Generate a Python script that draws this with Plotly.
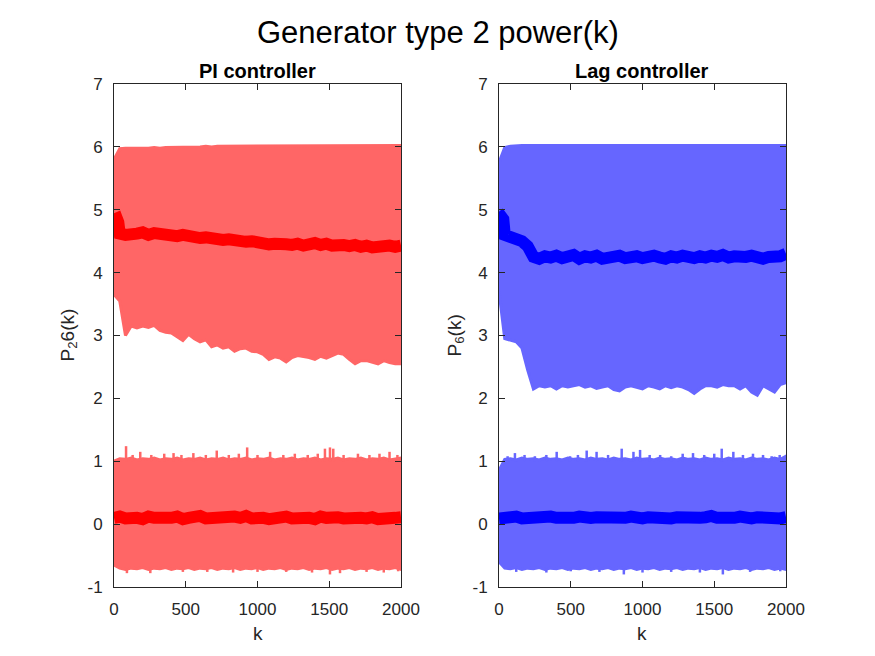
import plotly.graph_objects as go

# ---------------- data ----------------
k_grid = list(range(0, 2001, 40))           # 51 sample positions
k_mean = [0, 20, 30] + list(range(40, 2001, 40))

# PI controller
pi_up_top = [5.80, 5.97, 5.98, 5.98, 5.97, 5.98, 5.98, 5.99, 5.98, 5.99,
             5.99, 6.00, 5.99, 6.00, 6.00, 6.00, 6.01, 6.00, 6.01, 6.01,
             6.01, 6.01, 6.02, 6.01, 6.02, 6.02, 6.02, 6.02, 6.02, 6.02,
             6.02, 6.02, 6.02, 6.02, 6.02, 6.02, 6.02, 6.02, 6.02, 6.02,
             6.02, 6.02, 6.02, 6.02, 6.02, 6.02, 6.02, 6.02, 6.02, 6.02, 6.02]
pi_up_bot = [3.65, 3.55, 3.00, 3.15, 3.12, 3.15, 3.13, 3.16, 3.08, 3.05,
             3.04, 2.98, 2.92, 3.02, 2.95, 2.90, 2.93, 2.82, 2.85, 2.80,
             2.82, 2.75, 2.79, 2.80, 2.75, 2.74, 2.70, 2.62, 2.66, 2.64,
             2.58, 2.65, 2.68, 2.67, 2.65, 2.62, 2.67, 2.64, 2.68, 2.72,
             2.70, 2.62, 2.55, 2.60, 2.60, 2.58, 2.55, 2.60, 2.57, 2.55, 2.55]
pi_lo_top = [1.00, 1.04, 1.03, 1.05, 1.02, 1.04, 1.03, 1.05, 1.02, 1.04,
             1.03, 1.05, 1.02, 1.04, 1.03, 1.05, 1.02, 1.04, 1.03, 1.05,
             1.02, 1.04, 1.03, 1.05, 1.02, 1.04, 1.03, 1.05, 1.02, 1.04,
             1.03, 1.05, 1.02, 1.04, 1.03, 1.05, 1.02, 1.04, 1.03, 1.05,
             1.02, 1.04, 1.03, 1.05, 1.02, 1.04, 1.03, 1.05, 1.02, 1.04, 1.05]
pi_lo_bot = [-0.65, -0.70, -0.72, -0.70, -0.71, -0.69, -0.72, -0.70, -0.71, -0.69,
             -0.72, -0.70, -0.71, -0.69, -0.72, -0.70, -0.71, -0.69, -0.72, -0.70,
             -0.71, -0.69, -0.72, -0.70, -0.71, -0.69, -0.72, -0.70, -0.71, -0.69,
             -0.72, -0.70, -0.71, -0.69, -0.72, -0.70, -0.71, -0.69, -0.72, -0.70,
             -0.71, -0.69, -0.72, -0.70, -0.71, -0.69, -0.72, -0.70, -0.71, -0.69, -0.72]
pi_spk_hi_k = [84, 130, 183, 260, 350, 415, 470, 553, 640, 716, 800, 870, 928,
               1000, 1088, 1180, 1260, 1350, 1420, 1470, 1505, 1528, 1600, 1700,
               1780, 1850, 1920, 1975]
pi_spk_hi_v = [1.24, 1.10, 1.15, 1.10, 1.12, 1.13, 1.10, 1.13, 1.10, 1.17, 1.10,
               1.12, 1.22, 1.10, 1.15, 1.10, 1.12, 1.10, 1.12, 1.20, 1.22, 1.20,
               1.10, 1.12, 1.10, 1.12, 1.15, 1.10]
pi_spk_lo_k = [90, 253, 480, 650, 830, 1000, 1200, 1380, 1505, 1575, 1760, 1880, 1980]
pi_spk_lo_v = [-0.78, -0.78, -0.76, -0.76, -0.77, -0.76, -0.76, -0.77, -0.80, -0.78,
               -0.76, -0.77, -0.75]
pi_mean_up = [4.84, 4.86, 4.80, 4.62, 4.60, 4.63, 4.62, 4.64, 4.60, 4.63,
              4.61, 4.62, 4.60, 4.58, 4.60, 4.57, 4.58, 4.55, 4.56, 4.53,
              4.55, 4.52, 4.53, 4.50, 4.52, 4.49, 4.50, 4.47, 4.48, 4.45,
              4.46, 4.43, 4.45, 4.44, 4.46, 4.43, 4.45, 4.47, 4.44, 4.46,
              4.43, 4.45, 4.44, 4.42, 4.44, 4.41, 4.43, 4.40, 4.42, 4.41,
              4.43, 4.41, 4.43]
pi_mean_lo = [0.10, 0.12, 0.09, 0.11, 0.10, 0.08, 0.12, 0.10, 0.09, 0.11,
              0.10, 0.12, 0.08, 0.10, 0.11, 0.13, 0.09, 0.10, 0.11, 0.08,
              0.10, 0.12, 0.10, 0.13, 0.09, 0.11, 0.10, 0.08, 0.11, 0.10,
              0.12, 0.09, 0.10, 0.11, 0.10, 0.08, 0.12, 0.10, 0.13, 0.11,
              0.09, 0.10, 0.12, 0.10, 0.09, 0.11, 0.08, 0.10, 0.12, 0.10, 0.11]

# Lag controller
lag_up_top = [5.75, 5.99, 6.01, 6.02, 6.02, 6.02, 6.02, 6.02, 6.02, 6.02,
              6.02, 6.02, 6.02, 6.02, 6.02, 6.02, 6.02, 6.02, 6.02, 6.02,
              6.02, 6.02, 6.02, 6.02, 6.02, 6.02, 6.02, 6.02, 6.02, 6.02,
              6.02, 6.02, 6.02, 6.02, 6.02, 6.02, 6.02, 6.02, 6.02, 6.02,
              6.02, 6.02, 6.02, 6.02, 6.02, 6.02, 6.02, 6.02, 6.02, 6.02, 6.02]
lag_up_bot = [3.70, 2.95, 2.92, 2.90, 2.80, 2.45, 2.15, 2.20, 2.18, 2.20,
              2.15, 2.20, 2.18, 2.20, 2.22, 2.18, 2.20, 2.16, 2.18, 2.20,
              2.14, 2.12, 2.18, 2.20, 2.17, 2.15, 2.20, 2.18, 2.15, 2.20,
              2.17, 2.20, 2.18, 2.14, 2.08, 2.15, 2.20, 2.20, 2.18, 2.22,
              2.20, 2.20, 2.15, 2.20, 2.10, 2.05, 2.20, 2.15, 2.10, 2.22, 2.25]
lag_lo_top = [0.85, 1.03, 1.04, 1.02, 1.05, 1.03, 1.04, 1.02, 1.05, 1.03,
              1.04, 1.02, 1.05, 1.03, 1.04, 1.02, 1.05, 1.03, 1.04, 1.02,
              1.05, 1.03, 1.04, 1.02, 1.05, 1.03, 1.04, 1.02, 1.05, 1.03,
              1.04, 1.02, 1.05, 1.03, 1.04, 1.02, 1.05, 1.03, 1.04, 1.02,
              1.05, 1.03, 1.04, 1.02, 1.05, 1.03, 1.04, 1.02, 1.05, 1.03, 1.08]
lag_lo_bot = [-0.60, -0.70, -0.71, -0.69, -0.72, -0.70, -0.71, -0.69, -0.72, -0.70,
              -0.71, -0.69, -0.72, -0.70, -0.71, -0.69, -0.72, -0.70, -0.71, -0.69,
              -0.72, -0.70, -0.71, -0.69, -0.72, -0.70, -0.71, -0.69, -0.72, -0.70,
              -0.71, -0.69, -0.72, -0.70, -0.71, -0.69, -0.72, -0.70, -0.71, -0.69,
              -0.72, -0.70, -0.71, -0.69, -0.72, -0.70, -0.71, -0.69, -0.72, -0.70, -0.72]
lag_spk_hi_k = [60, 111, 178, 250, 330, 402, 495, 550, 611, 680, 760, 855, 937,
                983, 1050, 1123, 1200, 1280, 1352, 1430, 1500, 1552, 1633, 1700,
                1770, 1840, 1900, 1956]
lag_spk_hi_v = [1.08, 1.13, 1.10, 1.08, 1.10, 1.15, 1.08, 1.10, 1.17, 1.15, 1.10,
                1.20, 1.15, 1.18, 1.10, 1.10, 1.08, 1.12, 1.13, 1.10, 1.12, 1.20,
                1.15, 1.10, 1.12, 1.10, 1.08, 1.10]
lag_spk_lo_k = [120, 330, 500, 700, 870, 1000, 1200, 1400, 1560, 1750, 1960]
lag_spk_lo_v = [-0.76, -0.77, -0.75, -0.76, -0.80, -0.77, -0.76, -0.77, -0.80, -0.76, -0.75]
lag_mean_up = [4.84, 4.88, 4.85, 4.60, 4.57, 4.55, 4.50, 4.42, 4.25, 4.22,
               4.26, 4.24, 4.27, 4.23, 4.25, 4.28, 4.22, 4.26, 4.24, 4.27,
               4.22, 4.25, 4.24, 4.27, 4.23, 4.25, 4.26, 4.23, 4.25, 4.27,
               4.24, 4.22, 4.26, 4.24, 4.27, 4.25, 4.23, 4.26, 4.24, 4.27,
               4.25, 4.28, 4.24, 4.26, 4.23, 4.25, 4.27, 4.24, 4.22, 4.25,
               4.24, 4.26, 4.30]
lag_mean_lo = [0.09, 0.11, 0.10, 0.12, 0.09, 0.10, 0.11, 0.08, 0.10, 0.12,
               0.10, 0.09, 0.11, 0.10, 0.12, 0.09, 0.10, 0.11, 0.10, 0.13,
               0.09, 0.11, 0.10, 0.12, 0.10, 0.09, 0.11, 0.10, 0.12, 0.10,
               0.09, 0.11, 0.10, 0.12, 0.09, 0.10, 0.11, 0.13, 0.10, 0.09,
               0.11, 0.10, 0.12, 0.10, 0.09, 0.11, 0.10, 0.12, 0.10, 0.09, 0.11]

x_ticks = [0, 500, 1000, 1500, 2000]
x_ticktext = ["0", "500", "1000", "1500", "2000"]
y_ticks = [-1, 0, 1, 2, 3, 4, 5, 6, 7]
y_ticktext = ["-1", "0", "1", "2", "3", "4", "5", "6", "7"]
titles = ["PI controller", "Lag controller"]
ylabels = ["P<sub>2</sub>6(k)", "P<sub>6</sub>(k)"]

LIGHT = ["#FF6666", "#6666FF"]
DARK = ["#FF0000", "#0000FF"]
FONT = "Liberation Sans, Arial, Helvetica, sans-serif"
AX = "#262626"

fig = go.Figure()


def band(xa, ya, top, bot, color):
    fig.add_trace(go.Scatter(
        x=k_grid + k_grid[::-1], y=top + bot[::-1], xaxis=xa, yaxis=ya,
        mode="lines", fill="toself", fillcolor=color,
        line=dict(color=color, width=3), hoverinfo="skip", showlegend=False))


def spikes(xa, ya, ks, vs, base, color):
    xs, ys = [], []
    for kk, vv in zip(ks, vs):
        xs += [kk, kk, None]
        ys += [base, vv, None]
    fig.add_trace(go.Scatter(x=xs, y=ys, xaxis=xa, yaxis=ya, mode="lines",
                             line=dict(color=color, width=2.5),
                             hoverinfo="skip", showlegend=False))


def mean_line(xa, ya, ks, vs, color):
    fig.add_trace(go.Scatter(x=ks, y=vs, xaxis=xa, yaxis=ya, mode="lines",
                             line=dict(color=color, width=12),
                             hoverinfo="skip", showlegend=False))


panels = [
    (pi_up_top, pi_up_bot, pi_lo_top, pi_lo_bot, pi_spk_hi_k, pi_spk_hi_v,
     pi_spk_lo_k, pi_spk_lo_v, pi_mean_up, pi_mean_lo),
    (lag_up_top, lag_up_bot, lag_lo_top, lag_lo_bot, lag_spk_hi_k, lag_spk_hi_v,
     lag_spk_lo_k, lag_spk_lo_v, lag_mean_up, lag_mean_lo),
]

for i, p in enumerate(panels):
    xa = "x" if i == 0 else "x2"
    ya = "y" if i == 0 else "y2"
    (ut, ub, lt, lb, shk, shv, slk, slv, mu, ml) = p
    band(xa, ya, ut, ub, LIGHT[i])
    band(xa, ya, lt, lb, LIGHT[i])
    spikes(xa, ya, shk, shv, 1.0, LIGHT[i])
    spikes(xa, ya, slk, slv, -0.7, LIGHT[i])
    mean_line(xa, ya, k_mean, mu, DARK[i])
    mean_line(xa, ya, k_grid, ml, DARK[i])

W, H = 875, 656
x_dom = [[114 / W, 401 / W], [499 / W, 786 / W]]
y_dom = [1 - 587 / H, 1 - 84 / H]

axis_common = dict(showline=True, linecolor=AX, linewidth=1, mirror="ticks",
                   ticks="inside", ticklen=6, tickcolor=AX, tickwidth=1,
                   showgrid=False, zeroline=False, automargin=False,
                   ticklabelstandoff=7,
                   tickfont=dict(family=FONT, size=17, color=AX))

fig.update_layout(
    width=W, height=H, autosize=False,
    margin=dict(l=0, r=0, t=0, b=0, pad=0),
    paper_bgcolor="white", plot_bgcolor="white",
    font=dict(family=FONT, color=AX),
    xaxis=dict(domain=x_dom[0], range=[0, 2000], tickvals=x_ticks, ticktext=x_ticktext,
               anchor="y", **axis_common),
    yaxis=dict(domain=y_dom, range=[-1, 7], tickvals=y_ticks, ticktext=y_ticktext,
               anchor="x", **axis_common),
    xaxis2=dict(domain=x_dom[1], range=[0, 2000], tickvals=x_ticks, ticktext=x_ticktext,
                anchor="y2", **axis_common),
    yaxis2=dict(domain=y_dom, range=[-1, 7], tickvals=y_ticks, ticktext=y_ticktext,
                anchor="x2", **axis_common),
)

ann = []
ann.append(dict(text="Generator type 2 power(k)", x=0.5, y=1 - 33 / H,
                xref="paper", yref="paper", xanchor="center", yanchor="middle",
                showarrow=False, font=dict(family=FONT, size=31, color="black")))
for i in range(2):
    cx = (x_dom[i][0] + x_dom[i][1]) / 2
    ann.append(dict(text="<b>" + titles[i] + "</b>", x=cx, y=1 - 71 / H,
                    xref="paper", yref="paper", xanchor="center", yanchor="middle",
                    showarrow=False, font=dict(family=FONT, size=20, color="black")))
    ann.append(dict(text="k", x=cx, y=1 - 633 / H, xref="paper", yref="paper",
                    xanchor="center", yanchor="middle", showarrow=False,
                    font=dict(family=FONT, size=19, color=AX)))
ann.append(dict(text=ylabels[0], x=68 / W, y=(y_dom[0] + y_dom[1]) / 2,
                xref="paper", yref="paper", xanchor="center", yanchor="middle",
                textangle=-90, showarrow=False,
                font=dict(family=FONT, size=19, color=AX)))
ann.append(dict(text=ylabels[1], x=455 / W, y=(y_dom[0] + y_dom[1]) / 2,
                xref="paper", yref="paper", xanchor="center", yanchor="middle",
                textangle=-90, showarrow=False,
                font=dict(family=FONT, size=19, color=AX)))
fig.update_layout(annotations=ann)

fig.write_html("out.html", config={"displayModeBar": False},
               post_script="document.body.style.margin='0';document.body.style.padding='0';")
